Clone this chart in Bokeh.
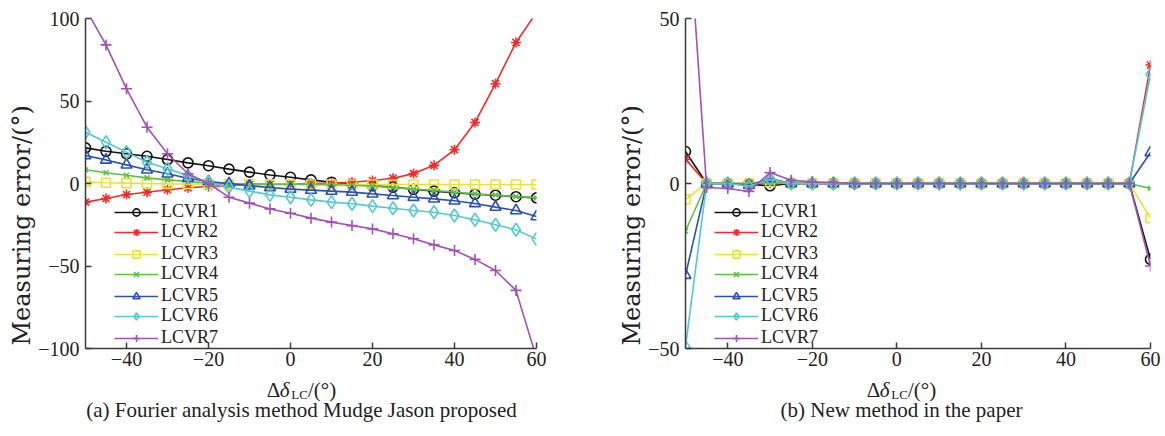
from bokeh.plotting import figure
from bokeh.models import Legend, LegendItem, FixedTicker, Title, Range1d
from bokeh.layouts import row, column
from bokeh.core.properties import value
from bokeh.embed import file_html
from bokeh.resources import INLINE

# Retardance offset of the liquid-crystal variable retarder, degrees
delta_lc = [-50, -45, -40, -35, -30, -25, -20, -15, -10, -5, 0, 5,
            10, 15, 20, 25, 30, 35, 40, 45, 50, 55, 60]

series_names = ["LCVR1", "LCVR2", "LCVR3", "LCVR4", "LCVR5", "LCVR6", "LCVR7"]

# (a) Fourier analysis method: measuring error, degrees
fourier_lcvr1 = [21.6, 19.5, 18.0, 16.5, 14.5, 12.5, 10.8, 8.7, 6.9, 5.2, 3.8, 2.2,
                 0.8, -0.5, -1.4, -2.2, -3.5, -4.6, -5.6, -6.5, -7.1, -8.0, -8.7]
fourier_lcvr2 = [-11.3, -9.1, -6.7, -5.3, -3.8, -2.6, -1.8, -1.2, -0.8, -0.5, -0.3, 0.0,
                 0.3, 0.8, 1.8, 3.2, 6.0, 11.0, 20.5, 37.0, 60.5, 85.5, 103.6]
fourier_lcvr3 = [1.0, 0.5, 0.2, 0.0, -0.2, -0.3, -0.4, -0.5, -0.5, -0.5, -0.5, -0.6,
                 -0.6, -0.6, -0.6, -0.6, -0.6, -0.6, -0.6, -0.6, -0.6, -0.6, -0.6]
fourier_lcvr4 = [8.3, 6.5, 5.0, 3.4, 2.2, 1.2, 0.4, 0.0, -0.2, -0.4, -0.5, -0.6,
                 -0.8, -1.1, -1.6, -2.4, -3.4, -4.2, -5.2, -6.3, -7.0, -7.9, -8.7]
fourier_lcvr5 = [17.0, 14.3, 11.3, 8.3, 5.9, 3.2, 1.2, 0.0, -1.4, -2.4, -3.4, -4.0,
                 -4.6, -5.2, -6.3, -7.3, -8.3, -9.3, -10.5, -12.1, -14.3, -16.4, -20.0]
fourier_lcvr6 = [31.1, 25.0, 19.0, 12.9, 8.9, 4.8, 0.8, -2.2, -4.6, -6.9, -8.3, -9.9,
                 -11.3, -12.3, -13.7, -15.0, -16.4, -17.4, -19.4, -22.0, -25.0, -28.0, -33.7]
fourier_lcvr7 = [106.0, 84.0, 57.4, 34.1, 18.0, 5.9, 0.0, -8.3, -11.9, -15.4, -18.0, -21.0,
                 -23.4, -25.5, -27.5, -30.5, -33.5, -37.2, -40.6, -46.0, -52.7, -64.8, -105.7]

# (b) New method: measuring error, degrees
new_lcvr1 = [9.7, 0.0, 0.0, -0.2, -0.7, 0.0, 0.0, 0.0, 0.0, 0.0, 0.0, 0.0,
             0.0, 0.0, 0.0, 0.0, 0.0, 0.0, 0.0, 0.0, 0.0, 0.0, -23.0]
new_lcvr2 = [7.4, 0.0, 0.0, 0.0, 0.0, 0.0, 0.0, 0.0, 0.0, 0.0, 0.0, 0.0,
             0.0, 0.0, 0.0, 0.0, 0.0, 0.0, 0.0, 0.0, 0.0, 0.0, 35.9]
new_lcvr3 = [-4.8, 0.0, 0.0, 0.0, 0.4, 0.0, 0.0, 0.0, 0.0, 0.0, 0.0, 0.0,
             0.0, 0.0, 0.0, 0.0, 0.0, 0.0, 0.0, 0.0, 0.0, 0.0, -10.5]
new_lcvr4 = [-14.4, 0.0, 0.0, 0.0, 0.5, 0.0, 0.0, 0.0, 0.0, 0.0, 0.0, 0.0,
             0.0, 0.0, 0.0, 0.0, 0.0, 0.0, 0.0, 0.0, 0.0, 0.0, -1.5]
new_lcvr5 = [-27.8, 0.0, 0.0, -0.5, 1.5, 0.0, 0.0, 0.0, 0.0, 0.0, 0.0, 0.0,
             0.0, 0.0, 0.0, 0.0, 0.0, 0.0, 0.0, 0.0, 0.0, 0.0, 9.4]
new_lcvr6 = [-49.5, 0.0, 0.0, -0.8, 1.3, 0.0, 0.0, 0.0, 0.0, 0.0, 0.0, 0.0,
             0.0, 0.0, 0.0, 0.0, 0.0, 0.0, 0.0, 0.0, 0.0, 0.0, 33.1]
new_lcvr7 = [93.0, -1.2, -1.5, -2.4, 3.3, 1.0, 0.5, 0.3, 0.0, 0.0, 0.0, 0.0,
             0.0, 0.0, 0.0, 0.0, 0.0, 0.0, 0.0, 0.0, 0.0, 0.0, -25.0]

x_ticks = [-40, -20, 0, 20, 40, 60]
x_tick_labels = ["\u221240", "\u221220", "0", "20", "40", "60"]
left_y_ticks = [-100, -50, 0, 50, 100]
left_y_tick_labels = ["\u2212100", "\u221250", "0", "50", "100"]
right_y_ticks = [-50, 0, 50]
right_y_tick_labels = ["\u221250", "0", "50"]

y_title = "Measuring error/(\u00b0)"
caption_a = "(a) Fourier analysis method Mudge Jason proposed"
caption_b = "(b) New method in the paper"

colors = ["#111111", "#f42a2a", "#e6e23a", "#5fbf45", "#2a52b4", "#52c8d2", "#a351b3"]
markers = ["circle", "asterisk", "square", "x", "triangle", "diamond", "cross"]
marker_sizes = [10, 10, 9, 7, 11, 13, 11]

SERIF = "Liberation Serif"
TEXT = "#222222"
FRAME_BOTTOM = 348
MAIN_H = 373      # plot part
FOOT_H = 436 - MAIN_H   # strip under each plot carrying the x title and the caption

LEGEND_FONT = 18
LEGEND_ROW = 21          # pitch between legend rows, px
LEGEND_FIRST = 211       # page y of the first legend row


def style_axes(p, yt, ytl):
    p.xaxis.ticker = FixedTicker(ticks=x_ticks)
    p.xaxis.major_label_overrides = dict(zip(x_ticks, x_tick_labels))
    p.yaxis.ticker = FixedTicker(ticks=yt)
    p.yaxis.major_label_overrides = dict(zip(yt, ytl))
    for ax in (p.xaxis, p.yaxis):
        ax.axis_line_color = "#3a3a3a"
        ax.axis_line_width = 1.5
        ax.major_tick_line_color = "#3a3a3a"
        ax.major_tick_line_width = 1.5
        ax.major_tick_in = 6
        ax.major_tick_out = 0
        ax.minor_tick_line_color = None
        ax.major_label_text_font = SERIF
        ax.major_label_text_font_size = "20px"
        ax.major_label_text_color = TEXT
    p.xaxis.major_label_standoff = 3
    p.yaxis.major_label_standoff = 6
    p.xgrid.visible = False
    p.ygrid.visible = False
    p.outline_line_color = None


def footer(width, border_right, xr, caption, x_shift, title_base, caption_y):
    f = figure(width=width, height=FOOT_H, x_range=xr, y_range=Range1d(0, FOOT_H),
               min_border_left=85, min_border_right=border_right,
               min_border_top=0, min_border_bottom=0,
               x_axis_type=None, y_axis_type=None,
               output_backend="svg", toolbar_location=None)
    f.outline_line_color = None
    f.xgrid.visible = False
    f.ygrid.visible = False
    # Δδ_LC/(°) built from pieces so the subscript sits below the baseline
    parts = [("\u0394", "21px", "normal", 0, 13.0),
             ("\u03b4", "21px", "italic", 0, 11.5),
             ("LC", "13px", "normal", -5, 16.6),
             ("/(\u00b0)", "21px", "normal", 0, 28.2)]
    total = sum(w for *_, w in parts)
    cur = x_shift - total / 2
    base = 436 - title_base            # alphabetic baseline, page y -> strip y
    for text, size, style, dy, w in parts:
        f.text(x=[xr.start], y=[base + dy], text=[text], x_offset=cur,
               text_font=value(SERIF), text_font_size=size, text_font_style=style,
               text_color=TEXT, text_align="left", text_baseline="alphabetic")
        cur += w
    f.text(x=[xr.start], y=[436 - caption_y], text=[caption], x_offset=x_shift,
           text_font=value(SERIF), text_font_size="21px", text_color=TEXT,
           text_align="center", text_baseline="middle")
    return f


def panel(width, y_range, data, yt, ytl, caption, border_right):
    xr = Range1d(-50, 60)
    p = figure(width=width, height=MAIN_H, x_range=xr, y_range=y_range,
               min_border_left=85, min_border_right=border_right,
               min_border_top=18, min_border_bottom=MAIN_H - FRAME_BOTTOM,
               output_backend="svg", toolbar_location=None,
               background_fill_color="white", border_fill_color="white")
    style_axes(p, yt, ytl)
    item_h = round(LEGEND_FONT * 1.15)
    for i, (name, ys, c, m, s) in enumerate(zip(series_names, data, colors, markers,
                                                marker_sizes)):
        ln = p.line(delta_lc, ys, line_color=c, line_width=1.6)
        sc = p.scatter(delta_lc, ys, marker=m, size=s, line_color=c, line_width=1.6,
                       fill_color=None)
        # one single-entry legend per series keeps the rows on a tight pitch
        row_y = LEGEND_FIRST + i * LEGEND_ROW
        legend = Legend(items=[LegendItem(label=name, renderers=[ln, sc])],
                        location=(29, round(FRAME_BOTTOM - row_y - item_h / 2)),
                        padding=0, margin=0, spacing=0,
                        glyph_width=44, glyph_height=18, label_height=18,
                        label_standoff=3, border_line_color=None,
                        background_fill_alpha=0, label_text_font=SERIF,
                        label_text_font_size=f"{LEGEND_FONT}px", label_text_color=TEXT)
        p.add_layout(legend)
    p.add_layout(Title(text=y_title, align="left", offset=3, standoff=0,
                       text_font="DejaVu Serif", text_font_size="24px",
                       text_font_style="normal", text_color=TEXT), "left")
    foot = footer(width, border_right, xr, caption, 216, 389, 409)
    return column(p, foot)


p_a = panel(600, (-100, 100),
            [fourier_lcvr1, fourier_lcvr2, fourier_lcvr3, fourier_lcvr4,
             fourier_lcvr5, fourier_lcvr6, fourier_lcvr7],
            left_y_ticks, left_y_tick_labels, caption_a, 64)
p_b = panel(565, (-50, 50),
            [new_lcvr1, new_lcvr2, new_lcvr3, new_lcvr4,
             new_lcvr5, new_lcvr6, new_lcvr7],
            right_y_ticks, right_y_tick_labels, caption_b, 15)

layout = row(p_a, p_b)
open("out.html", "w").write(file_html(layout, INLINE))
